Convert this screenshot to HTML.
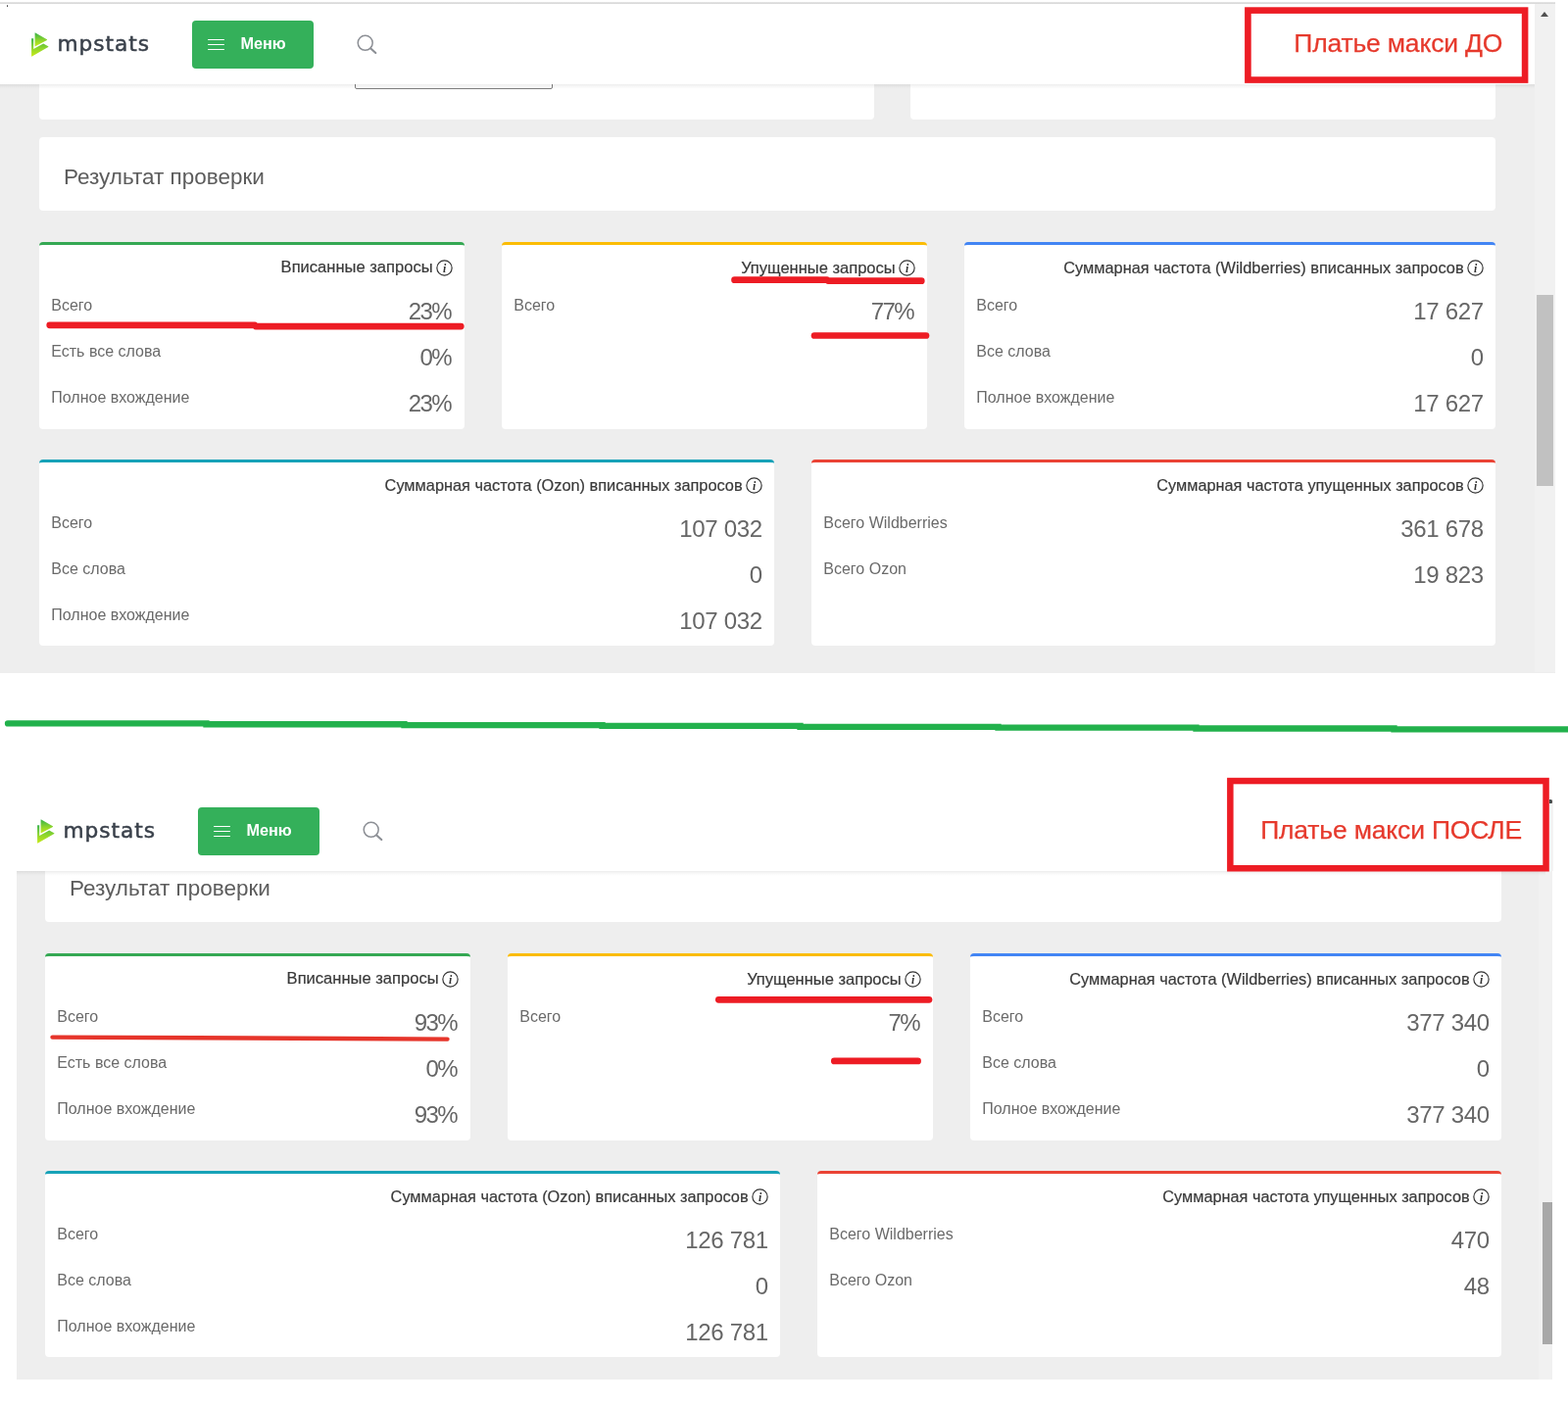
<!DOCTYPE html>
<html lang="ru"><head><meta charset="utf-8"><title>mpstats</title>
<style>
*{box-sizing:border-box}
html,body{margin:0;padding:0;background:#fff}
body{width:1600px;height:1434px;position:relative;overflow:hidden;font-family:"Liberation Sans",sans-serif}
.shot{position:absolute;overflow:hidden;background:#eee}
.in{position:absolute;left:0;top:0}
.hdr{position:absolute;left:0;height:83px;background:#fff}
.hdr:after{content:'';position:absolute;left:0;right:0;top:100%;height:5px;background:linear-gradient(rgba(0,0,0,.07),rgba(0,0,0,.02) 60%,rgba(0,0,0,0))}
.hdr>*{position:absolute}
.brand{font-family:'DejaVu Sans','Liberation Sans',sans-serif;font-size:21.7px;line-height:30px;color:#3a414b;letter-spacing:.95px;-webkit-text-stroke:.5px #3a414b}
.menu{width:124px;height:49.6px;background:#34b05a;border-radius:4px}
.menu i{position:absolute;left:16.3px;width:16.6px;height:1.4px;background:#fff;border-radius:1px}
.menu i:nth-child(1){top:19.2px}.menu i:nth-child(2){top:24.2px}.menu i:nth-child(3){top:29.3px}
.menu b{position:absolute;left:49.4px;top:-0.2px;line-height:49px;font-size:16.3px;color:#fff}
.wc{position:absolute;background:#fff;border-radius:4px}
.card{position:absolute;background:#fff;border-radius:4px;border-top:3px solid}
.ttl{position:absolute;right:12px;top:12.6px;height:20px;line-height:20px;color:#3a3a3a;white-space:nowrap;-webkit-text-stroke:.2px #3a3a3a}
.ttl span{vertical-align:top}
.inf{vertical-align:top;margin-left:3.4px;margin-top:2px}
.row{position:absolute;left:12px;right:12px;height:40px}
.lab{position:absolute;left:0.3px;top:2.6px;font-size:16px;line-height:20px;color:#6a6a6a;white-space:nowrap}
.val{position:absolute;right:0.2px;top:4.7px;font-size:24px;line-height:28px;color:#666;white-space:nowrap;letter-spacing:-.3px}
.val.p{letter-spacing:-1.5px;right:1.8px}
.h1{position:absolute;font-size:22.5px;line-height:26px;color:#5c5c5c;white-space:nowrap}
.note{position:absolute;background:#fff}
.nt{position:absolute;font-size:26.5px;letter-spacing:-.17px;-webkit-text-stroke:.25px #e6392c;line-height:30px;color:#e6392c;white-space:nowrap}
.ann{position:absolute;left:0;top:0}
</style></head><body>
<div class="shot" style="left:0;top:0;width:1586.5px;height:687px"><div class="wc" style="left:40px;top:60px;width:852px;height:62px"></div><div class="wc" style="left:929px;top:60px;width:597px;height:62px"></div><div style="position:absolute;left:362px;top:60px;width:202px;height:31px;border:1px solid #7d7d7d;border-radius:2px"></div><div class="wc" style="left:40px;top:140px;width:1486px;height:75px"></div><div class="h1" style="left:65px;top:168px">Результат проверки</div><div class="card" style="left:40px;top:247px;width:434px;height:191px;border-top-color:#34a853"><div class="ttl" style="font-size:16.56px"><span>Вписанные запросы</span><svg class="inf" viewBox="0 0 16 16" width="17" height="17"><circle cx="8" cy="8" r="7.2" fill="none" stroke="#333" stroke-width="1.1"/><text x="8" y="12" text-anchor="middle" font-family="Liberation Serif,serif" font-style="italic" font-weight="bold" font-size="11" fill="#333">i</text></svg></div><div class="row" style="top:49px"><span class="lab">Всего</span><span class="val p">23%</span></div><div class="row" style="top:96px"><span class="lab">Есть все слова</span><span class="val p">0%</span></div><div class="row" style="top:143px"><span class="lab">Полное вхождение</span><span class="val p">23%</span></div></div><div class="card" style="left:512px;top:247px;width:434px;height:191px;border-top-color:#fbbc05"><div class="ttl" style="font-size:16.5px"><span>Упущенные запросы</span><svg class="inf" viewBox="0 0 16 16" width="17" height="17"><circle cx="8" cy="8" r="7.2" fill="none" stroke="#333" stroke-width="1.1"/><text x="8" y="12" text-anchor="middle" font-family="Liberation Serif,serif" font-style="italic" font-weight="bold" font-size="11" fill="#333">i</text></svg></div><div class="row" style="top:49px"><span class="lab">Всего</span><span class="val p">77%</span></div></div><div class="card" style="left:984px;top:247px;width:542px;height:191px;border-top-color:#4285f4"><div class="ttl" style="font-size:16.38px"><span>Суммарная частота (Wildberries) вписанных запросов</span><svg class="inf" viewBox="0 0 16 16" width="17" height="17"><circle cx="8" cy="8" r="7.2" fill="none" stroke="#333" stroke-width="1.1"/><text x="8" y="12" text-anchor="middle" font-family="Liberation Serif,serif" font-style="italic" font-weight="bold" font-size="11" fill="#333">i</text></svg></div><div class="row" style="top:49px"><span class="lab">Всего</span><span class="val">17 627</span></div><div class="row" style="top:96px"><span class="lab">Все слова</span><span class="val">0</span></div><div class="row" style="top:143px"><span class="lab">Полное вхождение</span><span class="val">17 627</span></div></div><div class="card" style="left:40px;top:469px;width:750px;height:190px;border-top-color:#17a2b8"><div class="ttl" style="font-size:16.34px"><span>Суммарная частота (Ozon) вписанных запросов</span><svg class="inf" viewBox="0 0 16 16" width="17" height="17"><circle cx="8" cy="8" r="7.2" fill="none" stroke="#333" stroke-width="1.1"/><text x="8" y="12" text-anchor="middle" font-family="Liberation Serif,serif" font-style="italic" font-weight="bold" font-size="11" fill="#333">i</text></svg></div><div class="row" style="top:49px"><span class="lab">Всего</span><span class="val">107 032</span></div><div class="row" style="top:96px"><span class="lab">Все слова</span><span class="val">0</span></div><div class="row" style="top:143px"><span class="lab">Полное вхождение</span><span class="val">107 032</span></div></div><div class="card" style="left:828px;top:469px;width:698px;height:190px;border-top-color:#ea4335"><div class="ttl" style="font-size:16.29px"><span>Суммарная частота упущенных запросов</span><svg class="inf" viewBox="0 0 16 16" width="17" height="17"><circle cx="8" cy="8" r="7.2" fill="none" stroke="#333" stroke-width="1.1"/><text x="8" y="12" text-anchor="middle" font-family="Liberation Serif,serif" font-style="italic" font-weight="bold" font-size="11" fill="#333">i</text></svg></div><div class="row" style="top:49px"><span class="lab">Всего Wildberries</span><span class="val">361 678</span></div><div class="row" style="top:96px"><span class="lab">Всего Ozon</span><span class="val">19 823</span></div></div><div style="position:absolute;left:1566px;top:0;width:21px;height:686px;background:#f1f1f1"></div><div style="position:absolute;left:1568px;top:301px;width:17px;height:195px;background:#c1c1c1"></div><div style="position:absolute;left:1571.9px;top:12.2px;width:0;height:0;border-left:4.7px solid transparent;border-right:4.7px solid transparent;border-bottom:5.6px solid #505050"></div><div class="hdr" style="width:1566px;top:3px"><svg class="logo" style="left:31px;top:29px" width="20" height="27" viewBox="31 32 20 27">
<defs><linearGradient id="lg0" x1="0" y1="0" x2="0" y2="1"><stop offset="0" stop-color="#36b24a"/><stop offset="0.55" stop-color="#8fd62c"/><stop offset="1" stop-color="#c8ea18"/></linearGradient></defs>
<path d="M36.1 33.4 Q35.6 33.1 35.6 33.8 L35.6 47.6 L47.9 40.9 Q48.4 40.6 47.9 40.3 Z" fill="url(#lg0)"/>
<path d="M32.1 39.2 L34.2 39.2 L34.2 50.1 L44.2 44.6 L49.2 47.3 Q49.7 47.6 49.2 47.9 L32.7 57.6 Q32.1 57.9 32.1 57.3 Z" fill="url(#lg0)"/>
</svg><div class="brand" style="left:58.5px;top:26.6px">mpstats</div><div class="menu" style="left:196px;top:17.6px"><i></i><i></i><i></i><b>Меню</b></div><svg class="srch" style="left:360px;top:28px" width="28" height="28" viewBox="360 31 28 28"><circle cx="372.7" cy="43.8" r="7.5" fill="none" stroke="#8c8f95" stroke-width="1.5"/><path d="M378.3 49.4 L383.3 54" stroke="#8c8f95" stroke-width="2.1" stroke-linecap="round"/></svg></div><div style="position:absolute;left:0;top:0;width:1587px;height:3px;background:#fff"></div><div style="position:absolute;left:0;top:2px;width:1587px;height:2px;background:linear-gradient(#eee,#d2d2d2 60%,#e6e6e6)"></div><div style="position:absolute;left:6.5px;top:5px;width:1.6px;height:1.6px;border-radius:1px;background:#444"></div></div><div class="note" style="left:1271px;top:8px;width:288px;height:77px"></div><div class="nt" style="left:1320.3px;top:28.5px">Платье макси ДО</div><div class="shot" style="left:17px;top:795px;width:1567.3px;height:613px;background:#fff"><div class="in" style="left:-11px;top:-69px"><div style="position:absolute;left:11px;top:162px;width:1568px;height:520px;background:#eee"></div><div class="wc" style="left:40px;top:140px;width:1486px;height:75px"></div><div class="h1" style="left:65px;top:168px">Результат проверки</div><div class="card" style="left:40px;top:247px;width:434px;height:191px;border-top-color:#34a853"><div class="ttl" style="font-size:16.56px"><span>Вписанные запросы</span><svg class="inf" viewBox="0 0 16 16" width="17" height="17"><circle cx="8" cy="8" r="7.2" fill="none" stroke="#333" stroke-width="1.1"/><text x="8" y="12" text-anchor="middle" font-family="Liberation Serif,serif" font-style="italic" font-weight="bold" font-size="11" fill="#333">i</text></svg></div><div class="row" style="top:49px"><span class="lab">Всего</span><span class="val p">93%</span></div><div class="row" style="top:96px"><span class="lab">Есть все слова</span><span class="val p">0%</span></div><div class="row" style="top:143px"><span class="lab">Полное вхождение</span><span class="val p">93%</span></div></div><div class="card" style="left:512px;top:247px;width:434px;height:191px;border-top-color:#fbbc05"><div class="ttl" style="font-size:16.5px"><span>Упущенные запросы</span><svg class="inf" viewBox="0 0 16 16" width="17" height="17"><circle cx="8" cy="8" r="7.2" fill="none" stroke="#333" stroke-width="1.1"/><text x="8" y="12" text-anchor="middle" font-family="Liberation Serif,serif" font-style="italic" font-weight="bold" font-size="11" fill="#333">i</text></svg></div><div class="row" style="top:49px"><span class="lab">Всего</span><span class="val p">7%</span></div></div><div class="card" style="left:984px;top:247px;width:542px;height:191px;border-top-color:#4285f4"><div class="ttl" style="font-size:16.38px"><span>Суммарная частота (Wildberries) вписанных запросов</span><svg class="inf" viewBox="0 0 16 16" width="17" height="17"><circle cx="8" cy="8" r="7.2" fill="none" stroke="#333" stroke-width="1.1"/><text x="8" y="12" text-anchor="middle" font-family="Liberation Serif,serif" font-style="italic" font-weight="bold" font-size="11" fill="#333">i</text></svg></div><div class="row" style="top:49px"><span class="lab">Всего</span><span class="val">377 340</span></div><div class="row" style="top:96px"><span class="lab">Все слова</span><span class="val">0</span></div><div class="row" style="top:143px"><span class="lab">Полное вхождение</span><span class="val">377 340</span></div></div><div class="card" style="left:40px;top:469px;width:750px;height:190px;border-top-color:#17a2b8"><div class="ttl" style="font-size:16.34px"><span>Суммарная частота (Ozon) вписанных запросов</span><svg class="inf" viewBox="0 0 16 16" width="17" height="17"><circle cx="8" cy="8" r="7.2" fill="none" stroke="#333" stroke-width="1.1"/><text x="8" y="12" text-anchor="middle" font-family="Liberation Serif,serif" font-style="italic" font-weight="bold" font-size="11" fill="#333">i</text></svg></div><div class="row" style="top:49px"><span class="lab">Всего</span><span class="val">126 781</span></div><div class="row" style="top:96px"><span class="lab">Все слова</span><span class="val">0</span></div><div class="row" style="top:143px"><span class="lab">Полное вхождение</span><span class="val">126 781</span></div></div><div class="card" style="left:828px;top:469px;width:698px;height:190px;border-top-color:#ea4335"><div class="ttl" style="font-size:16.29px"><span>Суммарная частота упущенных запросов</span><svg class="inf" viewBox="0 0 16 16" width="17" height="17"><circle cx="8" cy="8" r="7.2" fill="none" stroke="#333" stroke-width="1.1"/><text x="8" y="12" text-anchor="middle" font-family="Liberation Serif,serif" font-style="italic" font-weight="bold" font-size="11" fill="#333">i</text></svg></div><div class="row" style="top:49px"><span class="lab">Всего Wildberries</span><span class="val">470</span></div><div class="row" style="top:96px"><span class="lab">Всего Ozon</span><span class="val">48</span></div></div><div style="position:absolute;left:1564px;top:162px;width:15px;height:520px;background:#f1f1f1"></div><div style="position:absolute;left:1567.8px;top:500.7px;width:10.6px;height:145px;background:#a8a8a8"></div></div><div class="in" style="left:-17px;top:8px"><div class="hdr" style="left:0px;width:1577px;top:3px"><svg class="logo" style="left:37px;top:29px" width="20" height="27" viewBox="31 32 20 27">
<defs><linearGradient id="lg6" x1="0" y1="0" x2="0" y2="1"><stop offset="0" stop-color="#36b24a"/><stop offset="0.55" stop-color="#8fd62c"/><stop offset="1" stop-color="#c8ea18"/></linearGradient></defs>
<path d="M36.1 33.4 Q35.6 33.1 35.6 33.8 L35.6 47.6 L47.9 40.9 Q48.4 40.6 47.9 40.3 Z" fill="url(#lg6)"/>
<path d="M32.1 39.2 L34.2 39.2 L34.2 50.1 L44.2 44.6 L49.2 47.3 Q49.7 47.6 49.2 47.9 L32.7 57.6 Q32.1 57.9 32.1 57.3 Z" fill="url(#lg6)"/>
</svg><div class="brand" style="left:64.5px;top:26.6px">mpstats</div><div class="menu" style="left:202px;top:17.6px"><i></i><i></i><i></i><b>Меню</b></div><svg class="srch" style="left:366px;top:28px" width="28" height="28" viewBox="360 31 28 28"><circle cx="372.7" cy="43.8" r="7.5" fill="none" stroke="#8c8f95" stroke-width="1.5"/><path d="M378.3 49.4 L383.3 54" stroke="#8c8f95" stroke-width="2.1" stroke-linecap="round"/></svg></div></div></div><div class="note" style="left:1253px;top:794px;width:327px;height:95px"></div><div style="position:absolute;left:1581px;top:816px;width:3.5px;height:73px;background:#f3f3f3"></div><div style="position:absolute;left:1581px;top:816.3px;width:2.8px;height:4.2px;border-radius:0 1.5px 1px 0;background:#4a4a4a"></div><div class="nt" style="left:1286.2px;top:832px">Платье макси ПОСЛЕ</div><svg class="ann" width="1600" height="1434" viewBox="0 0 1600 1434" fill="none" stroke-linecap="round" stroke-linejoin="round">
<g stroke="#22b14c" stroke-width="6.3" stroke-linejoin="miter">
<path d="M8 738.4 L210.5 738.4 L210.5 739.25 L412.5 739.25 L412.5 740.1 L614.5 740.1 L614.5 740.95 L816.5 740.95 L816.5 741.8 L1018.5 741.8 L1018.5 742.65 L1220.5 742.65 L1220.5 743.5 L1422.5 743.5 L1422.5 744.35 L1604 744.35"/>
</g>
<rect x="1273.4" y="10.6" width="282.7" height="70.95" stroke="#ed1c24" stroke-width="6.6" stroke-linejoin="miter"/>
<rect x="1255.35" y="797.05" width="322.2" height="89.2" stroke="#ed1c24" stroke-width="6.5" stroke-linejoin="miter"/>
<g stroke="#ed1c24" stroke-width="6.7">
<path d="M50.7 331.8 L260 331.8 L261 333.1 L470.3 333.1"/>
<path d="M749.5 285.7 L844 285.7 L845 286.7 L940.3 286.7"/>
<path d="M831 342.5 L945 342.5"/>
<path d="M733.3 1020.3 L948 1020.3"/>
<path d="M851.3 1082.9 L936.6 1082.9"/>
</g>
<g stroke="#e6352b" stroke-width="4.4">
<path d="M53.5 1058.6 L200 1059.2 L350 1060 L456.5 1060.6"/>
</g>
</svg>
</body></html>
